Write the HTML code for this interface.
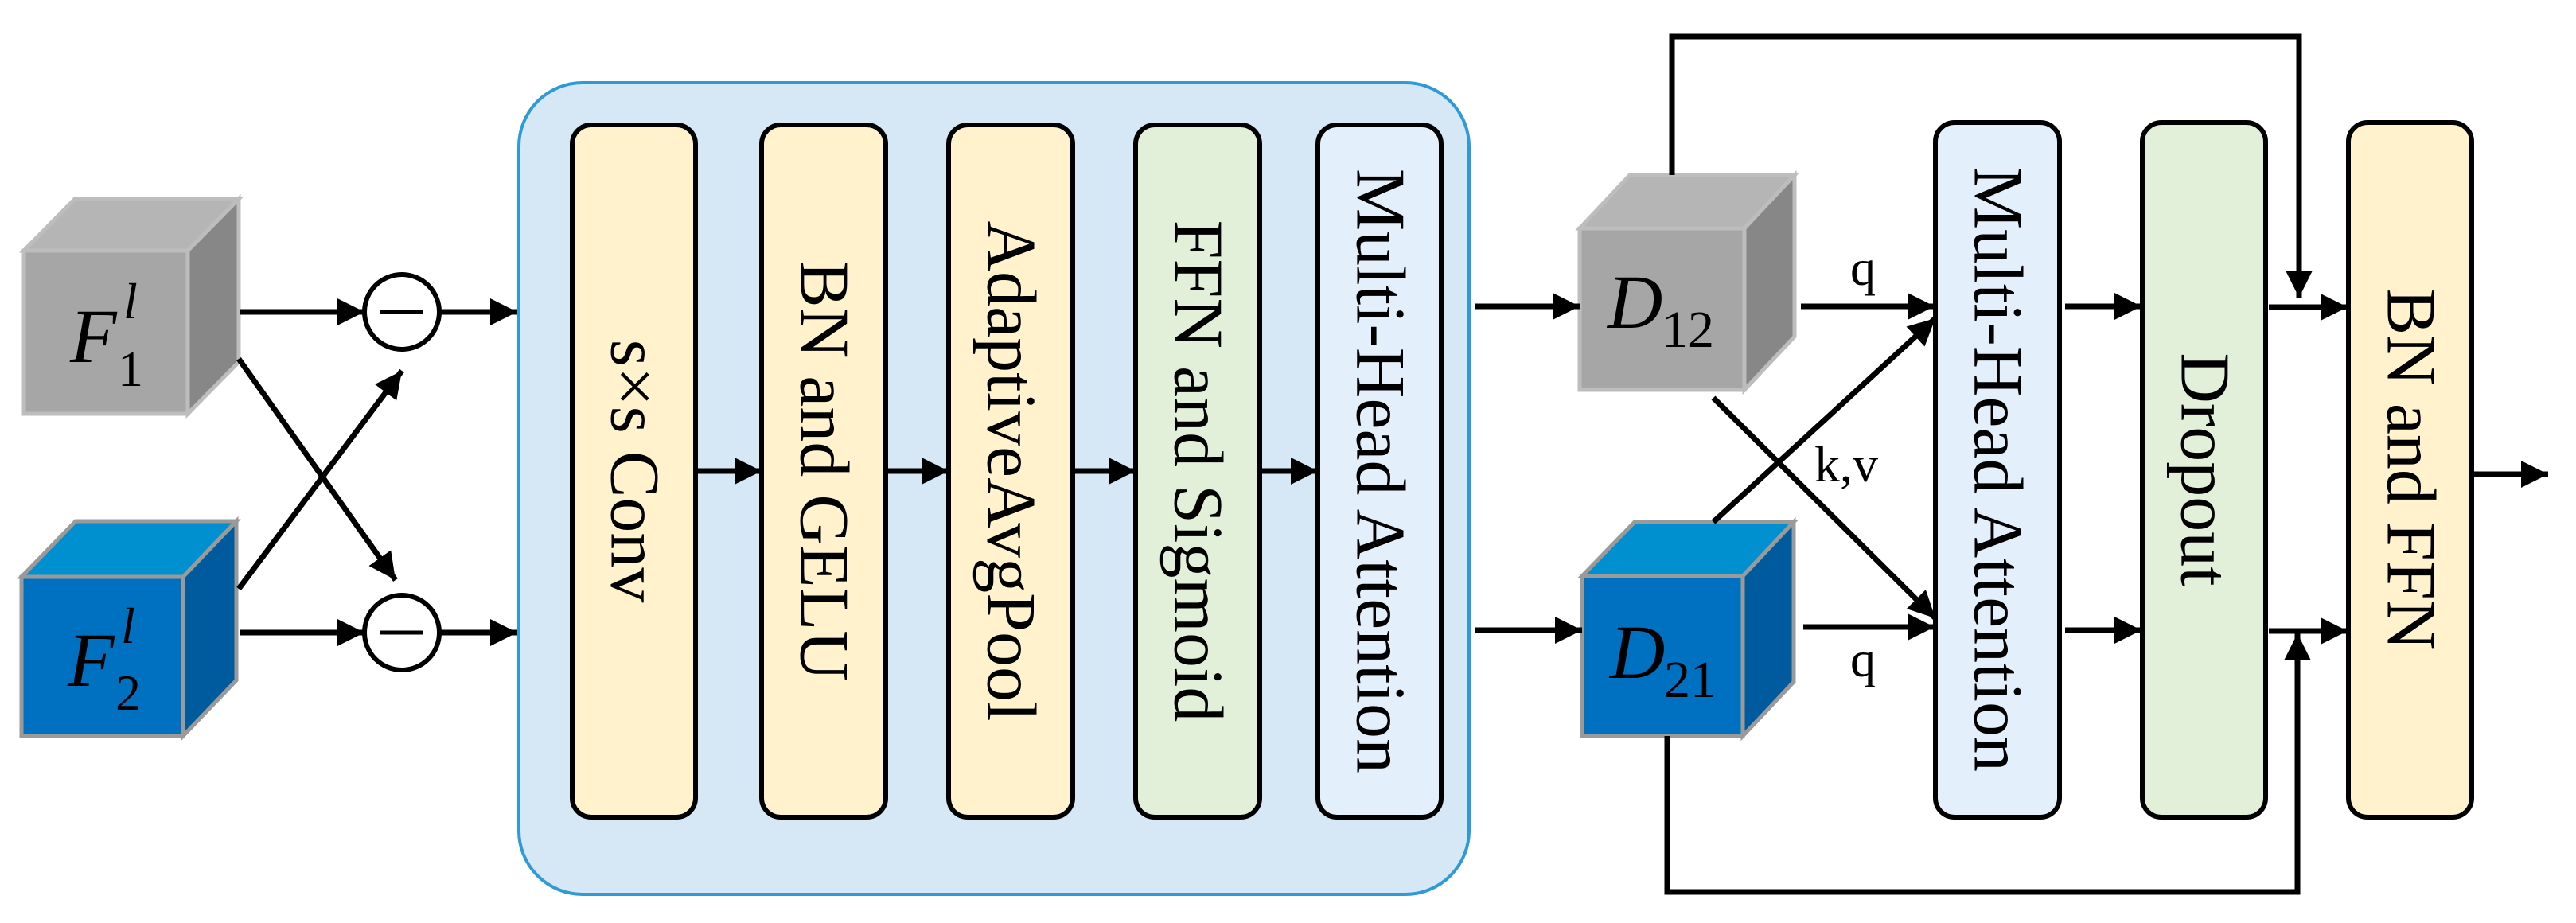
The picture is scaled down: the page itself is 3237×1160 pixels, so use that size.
<!DOCTYPE html>
<html><head><meta charset="utf-8"><style>html,body{margin:0;padding:0;background:#fff}svg{display:block;font-family:"Liberation Serif","Times New Roman",serif}text{font-family:"Liberation Serif","Times New Roman",serif}</style></head>
<body>
<svg width="3237" height="1160" viewBox="0 0 3237 1160" xmlns="http://www.w3.org/2000/svg">
<defs>
<marker id="a" viewBox="0 0 10 10" refX="10" refY="5" markerWidth="34" markerHeight="34" markerUnits="userSpaceOnUse" orient="auto"><path d="M0,0 L10,5 L0,10 z" fill="#000"/></marker>
</defs>
<rect x="652" y="104" width="1194" height="1020" rx="80" fill="#d6e8f6" stroke="#2e9bd6" stroke-width="4"/>
<g stroke="#000" stroke-width="6">
<rect x="719" y="157" width="155" height="870" rx="24" fill="#fff2cc"/>
<rect x="957" y="157" width="156" height="870" rx="24" fill="#fff2cc"/>
<rect x="1192" y="157" width="156" height="870" rx="24" fill="#fff2cc"/>
<rect x="1427" y="157" width="156" height="870" rx="24" fill="#e2f0d9"/>
<rect x="1656" y="157" width="155" height="870" rx="24" fill="#e3effa"/>
<rect x="2432" y="154" width="156" height="873" rx="24" fill="#e3effa"/>
<rect x="2692" y="154" width="155" height="873" rx="24" fill="#e2f0d9"/>
<rect x="2951" y="154" width="155" height="873" rx="24" fill="#fff2cc"/>
</g>
<g font-size="88" fill="#000" text-anchor="middle" dominant-baseline="central">
<text transform="translate(797,592) rotate(90)">s×s Conv</text>
<text transform="translate(1035,592) rotate(90)">BN and GELU</text>
<text transform="translate(1270,592) rotate(90)">AdaptiveAvgPool</text>
<text transform="translate(1505,592) rotate(90)">FFN and Sigmoid</text>
<text transform="translate(1734,592) rotate(90)">Multi-Head Attention</text>
<text transform="translate(2510,590) rotate(90)">Multi-Head Attention</text>
<text transform="translate(2770,590) rotate(90)">Dropout</text>
<text transform="translate(3029,590) rotate(90)">BN and FFN</text>
</g>
<g stroke="#bdbdbd" stroke-width="5">
<polygon points="30,315 94,250 300,250 236,315" fill="#b5b5b5"/>
<polygon points="236,315 300,250 300,455 236,520" fill="#878787"/>
<rect x="30" y="315" width="206" height="205" fill="#a6a6a6"/>
<polygon points="1985,287 2048,220 2255,220 2192,287" fill="#b5b5b5"/>
<polygon points="2192,287 2255,220 2255,423 2192,490" fill="#878787"/>
<rect x="1985" y="287" width="207" height="203" fill="#a6a6a6"/>
</g>
<g stroke="#9a9a9a" stroke-width="5">
<polygon points="27,725 95,655 297,655 230,725" fill="#0090d0"/>
<polygon points="230,725 297,655 297,855 230,925" fill="#005a9e"/>
<rect x="27" y="725" width="203" height="200" fill="#0070c0"/>
<polygon points="1988,724 2054,656 2254,656 2190,724" fill="#0090d0"/>
<polygon points="2190,724 2254,656 2254,857 2190,925" fill="#005a9e"/>
<rect x="1988" y="724" width="202" height="201" fill="#0070c0"/>
</g>
<g font-style="italic" fill="#000">
<text x="88" y="455" font-size="96">F</text><text x="148" y="485" font-size="64" font-style="normal">1</text><text x="155" y="400" font-size="64">l</text>
<text x="85" y="862" font-size="96">F</text><text x="145" y="892" font-size="64" font-style="normal">2</text><text x="152" y="808" font-size="64">l</text>
<text x="2020" y="412" font-size="96">D</text><text x="2088" y="436" font-size="66" font-style="normal">12</text>
<text x="2023" y="852" font-size="96">D</text><text x="2091" y="876" font-size="66" font-style="normal">21</text>
</g>
<g font-size="64" fill="#000">
<text x="2325" y="358">q</text>
<text x="2325" y="850">q</text>
<text x="2280" y="605">k,v</text>
</g>
<g stroke="#000" stroke-width="6" fill="#fff">
<circle cx="505" cy="392" r="47"/>
<circle cx="505" cy="795" r="47"/>
</g>
<g stroke="#000" stroke-width="5">
<line x1="478" y1="392" x2="532" y2="392"/>
<line x1="478" y1="795" x2="532" y2="795"/>
</g>
<g stroke="#000" stroke-width="7" fill="none" marker-end="url(#a)">
<line x1="302" y1="392" x2="458" y2="392"/>
<line x1="552" y1="392" x2="650" y2="392"/>
<line x1="302" y1="795" x2="458" y2="795"/>
<line x1="552" y1="795" x2="650" y2="795"/>
<line x1="300" y1="451" x2="497" y2="729"/>
<line x1="300" y1="740" x2="505" y2="466"/>
<line x1="874" y1="592" x2="957" y2="592"/>
<line x1="1113" y1="592" x2="1192" y2="592"/>
<line x1="1348" y1="592" x2="1427" y2="592"/>
<line x1="1583" y1="592" x2="1656" y2="592"/>
<line x1="1853" y1="385" x2="1985" y2="385"/>
<line x1="1853" y1="792" x2="1988" y2="792"/>
<line x1="2263" y1="385" x2="2431" y2="385"/>
<line x1="2266" y1="788" x2="2431" y2="788"/>
<line x1="2153" y1="500" x2="2432" y2="777"/>
<line x1="2153" y1="656" x2="2432" y2="400"/>
<line x1="2595" y1="385" x2="2691" y2="385"/>
<line x1="2595" y1="792" x2="2691" y2="792"/>
<line x1="2851" y1="386" x2="2950" y2="386"/>
<line x1="2851" y1="793" x2="2950" y2="793"/>
<line x1="3106" y1="596" x2="3202" y2="596"/>
<polyline points="2101,220 2101,46 2889,46 2889,374"/>
<polyline points="2095,925 2095,1121 2887,1121 2887,796"/>
</g>
</svg>
</body></html>
